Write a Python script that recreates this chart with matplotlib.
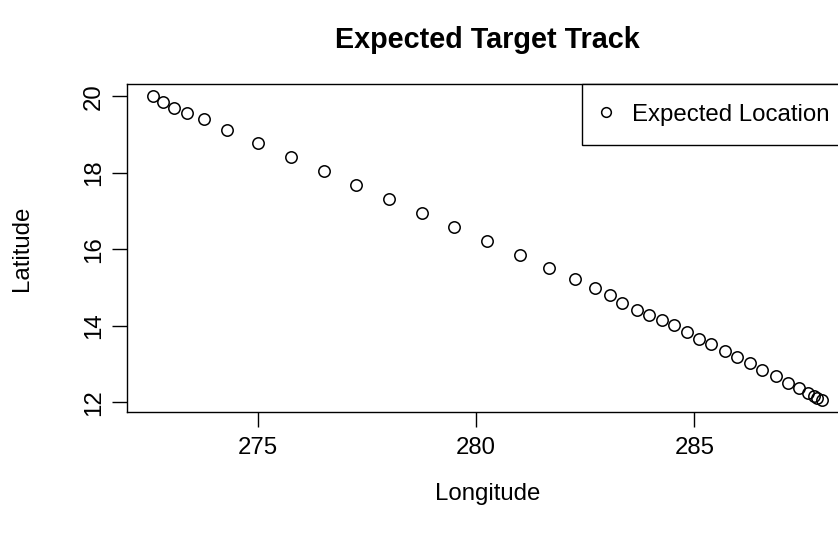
import matplotlib
matplotlib.use("Agg")
import matplotlib.pyplot as plt
import numpy as np

# Expected positions along the target track (degrees east / north)
longitude = [
    272.61, 272.82, 273.09, 273.37, 273.77, 274.30, 275.01, 275.75, 276.51, 277.26,
    278.00, 278.76, 279.50, 280.25, 281.00, 281.68, 282.27, 282.73, 283.06, 283.34,
    283.68, 283.96, 284.25, 284.53, 284.84, 285.10, 285.39, 285.69, 285.98, 286.27,
    286.55, 286.86, 287.14, 287.39, 287.60, 287.73, 287.82, 287.92,
]
latitude = [
    20.00, 19.86, 19.71, 19.58, 19.40, 19.12, 18.79, 18.41, 18.05, 17.69,
    17.31, 16.95, 16.58, 16.21, 15.86, 15.52, 15.23, 15.00, 14.80, 14.60,
    14.41, 14.28, 14.15, 14.02, 13.83, 13.67, 13.52, 13.34, 13.18, 13.02,
    12.85, 12.69, 12.51, 12.37, 12.24, 12.16, 12.12, 12.06,
]
x_ticks = [275, 280, 285]
y_ticks = [12, 14, 16, 18, 20]

plt.rcParams["font.family"] = ["Liberation Sans", "DejaVu Sans"]
FS = 17.28

W, H = 838, 536
fig = plt.figure(figsize=(W / 100, H / 100), dpi=100)
left, right, top, bottom = 126.7, 848.6, 84.3, 412.3
ax = fig.add_axes([left / W, 1 - bottom / H, (right - left) / W, (bottom - top) / H])

ax.plot(longitude, latitude, linestyle="none", marker="o", markersize=8.2,
        markerfacecolor="none", markeredgecolor="black", markeredgewidth=1.1,
        label="Expected Location")

# 4% padding on each side of the data range
def padded(vals):
    lo, hi = min(vals), max(vals)
    d = (hi - lo) * 0.04
    return lo - d, hi + d

ax.set_xlim(*padded(longitude))
ax.set_ylim(*padded(latitude))

ax.set_xticks(x_ticks)
ax.set_yticks(y_ticks)
ax.set_xticklabels([str(v) for v in x_ticks])
ax.set_yticklabels([str(v) for v in y_ticks], rotation=90, va="center")

for s in ax.spines.values():
    s.set_linewidth(1.0)
    s.set_color("black")
ax.tick_params(axis="both", direction="out", length=10.8, width=1.0,
               labelsize=FS, colors="black")
ax.tick_params(axis="x", pad=7)
ax.tick_params(axis="y", pad=5)

ax.set_xlabel("Longitude", fontsize=FS)
ax.set_ylabel("Latitude", fontsize=FS)
ax.xaxis.set_label_coords(0.5, (bottom - 494) / (bottom - top))
ax.xaxis.label.set_va("center")
ax.yaxis.set_label_coords((22 - left) / (right - left), 0.5)
ax.yaxis.label.set_va("center")

ax.text(0.5, (bottom - 40) / (bottom - top), "Expected Target Track",
        transform=ax.transAxes, ha="center", va="center",
        fontsize=FS * 1.2, fontweight="bold")

leg = ax.legend(loc="upper right", bbox_to_anchor=(1, 1), borderaxespad=0,
                fontsize=FS, fancybox=False, framealpha=1, edgecolor="black",
                borderpad=0.8, handlelength=0.4, handletextpad=0.9,
                markerscale=0.85)
leg.get_frame().set_linewidth(1.0)

fig.savefig("out.png", dpi=100)
